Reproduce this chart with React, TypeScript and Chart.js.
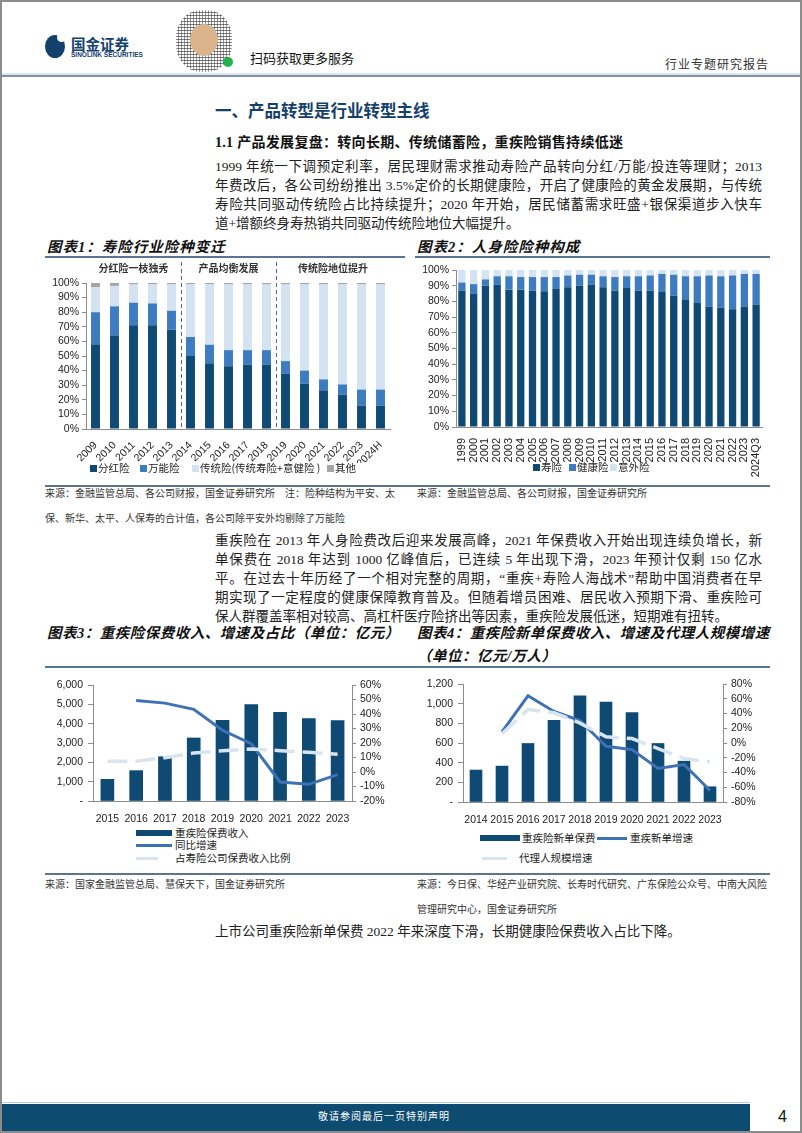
import React, { useEffect, useRef } from "react";
import { Chart, registerables } from "chart.js";
Chart.register(...registerables);

const FONT = "'Liberation Sans', 'Noto Sans CJK SC', Arial, sans-serif";
const CJK = "'Noto Sans CJK SC', 'Liberation Sans', sans-serif";
const SERIF = "'Liberation Serif', 'Noto Sans CJK SC', serif";

const NAVY = "#0e4a73";
const MID = "#3d7cc0";
const LIGHT = "#d4e3f2";
const GRAY = "#a5a5a5";
const LINEBLUE = "#3f72b5";
const PALE = "#d8e5f1";
const AXIS = "#8c8c8c";
const RULE = "#587693";

// ---------- Chart 1: 寿险行业险种变迁 ----------
const years1 = ["2009", "2010", "2011", "2012", "2013", "2014", "2015", "2016", "2017", "2018", "2019", "2020", "2021", "2022", "2023", "2024H"];
const dividend1 = [58, 64, 71, 71, 68, 50, 45, 43, 44, 44, 38, 31, 26.5, 23.5, 16, 16];
const universal1 = [22, 20, 15.5, 15, 13, 13, 12.7, 11, 10, 10, 8.5, 9, 7.5, 7, 11, 11];
const traditional1 = [17, 14, 12.5, 13, 18, 36, 41.3, 45, 45, 45, 52.5, 59, 65, 68.5, 72, 72];
const other1 = [3, 2, 1, 1, 1, 1, 1, 1, 1, 1, 1, 1, 1, 1, 1, 1];
const bandLabels1 = ["分红险一枝独秀", "产品均衡发展", "传统险地位提升"];
const bandStarts1 = [0, 5, 10];
const series1Names = ["分红险", "万能险", "传统险(传统寿险+意健险 )", "其他"];

// ---------- Chart 2: 人身险险种构成 ----------
const years2 = ["1999", "2000", "2001", "2002", "2003", "2004", "2005", "2006", "2007", "2008", "2009", "2010", "2011", "2012", "2013", "2014", "2015", "2016", "2017", "2018", "2019", "2020", "2021", "2022", "2023", "2024Q3"];
const life2 = [87, 85, 90, 90.5, 87.5, 87.5, 87, 86.5, 88, 89, 90, 90.5, 89, 87, 88.5, 87, 87, 86, 83.5, 81, 79, 76.5, 76, 75, 76.5, 78];
const health2 = [5, 6, 4, 5.5, 8.5, 8, 8.5, 9, 7.5, 7.5, 7, 6.5, 7, 8.5, 7.5, 9, 9.5, 11.5, 13.5, 15, 17, 20, 20, 21.5, 21, 19.5];
const accident2 = [8, 9, 6, 4, 4, 4.5, 4.5, 4.5, 4.5, 3.5, 3, 3, 4, 4.5, 4, 4, 3.5, 2.5, 3, 4, 4, 3.5, 4, 3.5, 2.5, 2.5];
const series2Names = ["寿险", "健康险", "意外险"];

// ---------- Chart 3: 重疾险保费收入、增速及占比 ----------
const years3 = ["2015", "2016", "2017", "2018", "2019", "2020", "2021", "2022", "2023"];
const premium3 = [1120, 1570, 2290, 3260, 4170, 4990, 4590, 4260, 4160];
const growth3 = [null, 49.3, 47.5, 43.2, 28.8, 19.5, -6.9, -8.5, -1.8];
const ratio3 = [7.5, 7.5, 9.9, 13.1, 14.7, 15.9, 14.7, 13.6, 12.2];
const series3Names = ["重疾险保费收入", "同比增速", "占寿险公司保费收入比例"];

// ---------- Chart 4: 重疾险新单保费收入、增速及代理人规模增速 ----------
const years4 = ["2014", "2015", "2016", "2017", "2018", "2019", "2020", "2021", "2022", "2023"];
const newPrem4 = [325, 365, 595, 830, 1080, 1015, 910, 595, 415, 155];
const growth4 = [null, 15, 64, 42.7, 30.5, -4.4, -9, -34.6, -29.2, -64.4];
const agent4 = [null, 12.5, 45.5, 41, 27, 8.5, 6, -7.5, -21, -25.5];
const series4Names = ["重疾险新单保费", "重疾新单增速", "代理人规模增速"];

const tickFont = (size: number) => ({ family: FONT, size });

function fixedWidth(w: number) {
  return (s: any) => {
    s.width = w;
  };
}
function fixedHeight(h: number) {
  return (s: any) => {
    s.height = h;
    s.paddingLeft = 0;
    s.paddingRight = 0;
  };
}

const bandPlugin = {
  id: "bands1",
  afterDraw(chart: any) {
    const { ctx, chartArea, scales } = chart;
    const x = scales.x;
    const step = x.getPixelForValue(1) - x.getPixelForValue(0);
    ctx.save();
    ctx.strokeStyle = "#4a62a8";
    ctx.lineWidth = 1;
    ctx.setLineDash([4, 3]);
    bandStarts1.forEach((s) => {
      if (s === 0) return;
      const px = Math.round(x.getPixelForValue(s) - step / 2) + 0.5;
      ctx.beginPath();
      ctx.moveTo(px, chartArea.top - 21);
      ctx.lineTo(px, chartArea.bottom);
      ctx.stroke();
    });
    ctx.setLineDash([]);
    ctx.fillStyle = "#333";
    ctx.font = `bold 10px ${CJK}`;
    ctx.textAlign = "center";
    ctx.textBaseline = "middle";
    bandLabels1.forEach((lab, i) => {
      const a = bandStarts1[i];
      const b = i + 1 < bandStarts1.length ? bandStarts1[i + 1] - 1 : years1.length - 1;
      const cx = (x.getPixelForValue(a) + x.getPixelForValue(b)) / 2;
      ctx.fillText(lab, cx, chartArea.top - 15);
    });
    ctx.restore();
  },
};

function leftAxis(w: number, tl: number, extra: any) {
  return {
    position: "left",
    border: { display: true, color: AXIS, width: 1 },
    grid: { display: true, drawOnChartArea: false, drawTicks: true, tickLength: tl, color: AXIS },
    afterFit: fixedWidth(w),
    ...extra,
  };
}

function config1(): any {
  return {
    type: "bar",
    data: {
      labels: years1,
      datasets: [
        { label: series1Names[0], data: dividend1, backgroundColor: NAVY },
        { label: series1Names[1], data: universal1, backgroundColor: MID },
        { label: series1Names[2], data: traditional1, backgroundColor: LIGHT },
        { label: series1Names[3], data: other1, backgroundColor: GRAY },
      ],
    },
    options: {
      animation: false,
      responsive: false,
      layout: { padding: { top: 25, right: 15, left: 0, bottom: 0 } },
      plugins: { legend: { display: false }, tooltip: { enabled: false } },
      datasets: { bar: { barPercentage: 0.47, categoryPercentage: 1 } },
      scales: {
        x: {
          stacked: true,
          border: { display: true, color: AXIS },
          grid: { display: false },
          ticks: { color: "#222", font: tickFont(10.5), minRotation: 45, maxRotation: 45, autoSkip: false, padding: 2 },
          afterFit: fixedHeight(34),
        },
        y: leftAxis(41, 4, {
          stacked: true,
          min: 0,
          max: 100,
          ticks: { color: "#222", font: tickFont(10.5), padding: 3, stepSize: 10, autoSkip: false, callback: (v: number) => v + "%" },
        }),
      },
    },
    plugins: [bandPlugin],
  };
}

function config2(): any {
  return {
    type: "bar",
    data: {
      labels: years2,
      datasets: [
        { label: series2Names[0], data: life2, backgroundColor: NAVY },
        { label: series2Names[1], data: health2, backgroundColor: MID },
        { label: series2Names[2], data: accident2, backgroundColor: LIGHT },
      ],
    },
    options: {
      animation: false,
      responsive: false,
      layout: { padding: { top: 12, right: 11, left: 0, bottom: 0 } },
      plugins: { legend: { display: false }, tooltip: { enabled: false } },
      datasets: { bar: { barPercentage: 0.62, categoryPercentage: 1 } },
      scales: {
        x: {
          stacked: true,
          border: { display: true, color: AXIS },
          grid: { display: false },
          ticks: { color: "#222", font: tickFont(11), minRotation: 90, maxRotation: 90, autoSkip: false, padding: 3 },
          afterFit: fixedHeight(51),
        },
        y: leftAxis(43, 4, {
          stacked: true,
          min: 0,
          max: 100,
          ticks: { color: "#222", font: tickFont(10.5), padding: 3, stepSize: 10, autoSkip: false, callback: (v: number) => v + "%" },
        }),
      },
    },
  };
}

function comboConfig(
  labels: string[],
  bars: number[],
  growth: (number | null)[],
  pale: (number | null)[],
  names: string[],
  yMax: number,
  yStep: number,
  rMin: number,
  rMax: number,
  rStep: number,
  barW: number,
  padTop: number,
  leftW: number,
  rightW: number,
  xH: number
): any {
  return {
    type: "bar",
    data: {
      labels,
      datasets: [
        {
          type: "line",
          label: names[2],
          data: pale,
          yAxisID: "y1",
          borderColor: PALE,
          borderWidth: 3.5,
          borderDash: [20, 8],
          pointRadius: 0,
          tension: 0,
          order: 1,
        },
        {
          type: "line",
          label: names[1],
          data: growth,
          yAxisID: "y1",
          borderColor: LINEBLUE,
          borderWidth: 3,
          pointRadius: 0,
          tension: 0,
          order: 2,
        },
        { type: "bar", label: names[0], data: bars, yAxisID: "y", backgroundColor: NAVY, barThickness: barW, order: 3 },
      ],
    },
    options: {
      animation: false,
      responsive: false,
      layout: { padding: { top: padTop, right: 0, left: 0, bottom: 0 } },
      plugins: { legend: { display: false }, tooltip: { enabled: false } },
      scales: {
        x: {
          border: { display: true, color: AXIS },
          grid: { display: false },
          ticks: { color: "#222", font: tickFont(10.5), maxRotation: 0, autoSkip: false, padding: 4 },
          afterFit: fixedHeight(xH),
        },
        y: leftAxis(leftW, 5, {
          min: 0,
          max: yMax,
          ticks: {
            color: "#222",
            font: tickFont(10.5),
            padding: 5,
            stepSize: yStep,
            autoSkip: false,
            callback: (v: number) => (v === 0 ? "-" : v.toLocaleString("en-US")),
          },
        }),
        y1: {
          position: "right",
          min: rMin,
          max: rMax,
          border: { display: true, color: AXIS, width: 1 },
          grid: { display: true, drawOnChartArea: false, drawTicks: true, tickLength: 4, color: AXIS },
          ticks: { color: "#222", font: tickFont(10.5), padding: 4, stepSize: rStep, autoSkip: false, callback: (v: number) => v + "%" },
          afterFit: fixedWidth(rightW),
        },
      },
    },
  };
}

function ChartBox({ left, top, width, height, build }: { left: number; top: number; width: number; height: number; build: () => any }) {
  const ref = useRef<HTMLCanvasElement>(null);
  useEffect(() => {
    const chart = new Chart(ref.current as HTMLCanvasElement, build());
    return () => chart.destroy();
  }, []);
  return (
    <div style={{ position: "absolute", left, top, width, height }}>
      <canvas ref={ref} width={width} height={height} style={{ width, height, display: "block" }} />
    </div>
  );
}

type TP = {
  x: number;
  y: number;
  s: number;
  c?: string;
  f?: string;
  b?: boolean;
  i?: boolean;
  ls?: number;
  just?: number;
  children: any;
};
function T({ x, y, s, c = "#222", f = SERIF, b = false, i = false, ls = 0, just, children }: TP) {
  return (
    <div
      style={{
        position: "absolute",
        left: x,
        top: y,
        transform: "translateY(-50%)",
        fontSize: s,
        lineHeight: 1.15,
        fontFamily: f,
        fontWeight: b ? 700 : 400,
        fontStyle: i ? "italic" : "normal",
        color: c,
        letterSpacing: ls,
        whiteSpace: "nowrap",
        width: just,
        textAlign: just ? "justify" : "left",
        textAlignLast: just ? "justify" : "auto",
      } as any}
    >
      {children}
    </div>
  );
}

function Box({ x, y, w, h, c, r }: { x: number; y: number; w: number; h: number; c: string; r?: any }) {
  return <div style={{ position: "absolute", left: x, top: y, width: w, height: h, background: c, borderRadius: r }} />;
}

function Swatch({ x, y, w, h, c }: { x: number; y: number; w: number; h: number; c: string }) {
  return <Box x={x} y={y - h / 2} w={w} h={h} c={c} />;
}

const para1 = [
  "1999 年统一下调预定利率，居民理财需求推动寿险产品转向分红/万能/投连等理财；2013",
  "年费改后，各公司纷纷推出 3.5%定价的长期健康险，开启了健康险的黄金发展期，与传统",
  "寿险共同驱动传统险占比持续提升；2020 年开始，居民储蓄需求旺盛+银保渠道步入快车",
  "道+增额终身寿热销共同驱动传统险地位大幅提升。",
];
const para2 = [
  "重疾险在 2013 年人身险费改后迎来发展高峰，2021 年保费收入开始出现连续负增长，新",
  "单保费在 2018 年达到 1000 亿峰值后，已连续 5 年出现下滑，2023 年预计仅剩 150 亿水",
  "平。在过去十年历经了一个相对完整的周期，“重疾+寿险人海战术”帮助中国消费者在早",
  "期实现了一定程度的健康保障教育普及。但随着增员困难、居民收入预期下滑、重疾险可",
  "保人群覆盖率相对较高、高杠杆医疗险挤出等因素，重疾险发展低迷，短期难有扭转。",
];

export default function App() {
  return (
    <div
      style={{
        position: "absolute",
        left: 0,
        top: 0,
        width: 802,
        height: 1133,
        overflow: "hidden",
        background: "#fff",
        boxSizing: "border-box",
        border: "2px solid #8c8c8c",
      }}
    >
      <div style={{ position: "absolute", left: -2, top: -2, width: 802, height: 1133 }}>
        {/* Header */}
        <Box x={45} y={35} w={20} h={23} c="#11416c" r="50%" />
        <Box x={57} y={33} w={9} h={9} c="#fff" r="50%" />
        <T x={71} y={44} s={14.5} f={CJK} b c="#11416c">国金证券</T>
        <T x={71} y={55} s={6.5} f={FONT} b c="#11416c">SINOLINK SECURITIES</T>
        <div
          style={{
            position: "absolute",
            left: 176,
            top: 10,
            width: 56,
            height: 62,
            borderRadius: "45%",
            background:
              "repeating-linear-gradient(0deg, #fff 0 2px, #555 2px 3px), repeating-linear-gradient(90deg, #fff 0 2px, #777 2px 3px)",
            backgroundBlendMode: "multiply",
            opacity: 0.75,
          }}
        />
        <Box x={190} y={24} w={28} h={32} c="#dcb48c" r="50%" />
        <Box x={223} y={57} w={10} h={10} c="#22b14c" r="50%" />
        <T x={250} y={58} s={13} f={CJK} c="#111">扫码获取更多服务</T>
        <T x={665} y={66} s={12} f={SERIF} c="#333" ls={1}>行业专题研究报告</T>
        <Box x={2} y={73} w={798} h={2} c="#dde7ef" />
        <Box x={2} y={75} w={798} h={2} c="#7f91a3" />

        {/* Section titles */}
        <T x={215} y={110} s={16.5} f={CJK} b c="#14406c">一、产品转型是行业转型主线</T>
        <T x={215} y={143} s={14} f={SERIF} b c="#111" ls={0.3}>1.1 产品发展复盘：转向长期、传统储蓄险，重疾险销售持续低迷</T>
        {para1.map((l, i) => (
          <T key={i} x={215} y={167 + i * 19} s={13.5} just={i < para1.length - 1 ? 547 : undefined}>
            {l}
          </T>
        ))}

        {/* Figure 1 & 2 titles */}
        <T x={47} y={247} s={14.5} f={SERIF} b i c="#111" ls={1}>图表1：寿险行业险种变迁</T>
        <T x={417} y={247} s={14.5} f={SERIF} b i c="#111" ls={1}>图表2：人身险险种构成</T>
        <Box x={45} y={256} w={360} h={1.5} c={RULE} />
        <Box x={415} y={256} w={355} h={1.5} c={RULE} />

        <ChartBox left={45} top={258} width={360} height={205} build={config1} />
        <ChartBox left={413} top={258} width={360} height={220} build={config2} />

        {/* Legend 1 */}
        {[
          { x: 90, c: NAVY, t: series1Names[0] },
          { x: 140, c: MID, t: series1Names[1] },
          { x: 192, c: LIGHT, t: series1Names[2] },
          { x: 327, c: GRAY, t: series1Names[3] },
        ].map((it, i) => (
          <React.Fragment key={i}>
            <Swatch x={it.x} y={468} w={7} h={7} c={it.c} />
            <T x={it.x + 8} y={468} s={10.5} f={CJK}>{it.t}</T>
          </React.Fragment>
        ))}
        {/* Legend 2 */}
        {[
          { x: 533, c: NAVY, t: series2Names[0] },
          { x: 569, c: MID, t: series2Names[1] },
          { x: 610, c: LIGHT, t: series2Names[2] },
        ].map((it, i) => (
          <React.Fragment key={i}>
            <Swatch x={it.x} y={467} w={7} h={7} c={it.c} />
            <T x={it.x + 8} y={467} s={10.5} f={CJK}>{it.t}</T>
          </React.Fragment>
        ))}

        <Box x={45} y={485} w={725} h={2} c={RULE} />
        <T x={45} y={494} s={10} f={SERIF} c="#333">来源：金融监管总局、各公司财报，国金证券研究所　注：险种结构为平安、太</T>
        <T x={45} y={519} s={10} f={SERIF} c="#333">保、新华、太平、人保寿的合计值，各公司除平安外均剔除了万能险</T>
        <T x={417} y={494} s={10} f={SERIF} c="#333">来源：金融监管总局、各公司财报，国金证券研究所</T>

        {para2.map((l, i) => (
          <T key={i} x={215} y={541 + i * 19} s={13.5} just={i < para2.length - 1 ? 547 : undefined}>
            {l}
          </T>
        ))}

        <T x={47} y={633} s={14.5} f={SERIF} b i c="#111" ls={0.5}>图表3：重疾险保费收入、增速及占比（单位：亿元）</T>
        <T x={417} y={633} s={14.5} f={SERIF} b i c="#111" ls={0.5}>图表4：重疾险新单保费收入、增速及代理人规模增速</T>
        <T x={417} y={656} s={14.5} f={SERIF} b i c="#111" ls={0.5}>（单位：亿元/万人）</T>
        <Box x={45} y={666} w={725} h={2} c={RULE} />

        <ChartBox
          left={45}
          top={672}
          width={360}
          height={152}
          build={() => comboConfig(years3, premium3, growth3, ratio3, series3Names, 6000, 1000, -20, 60, 10, 13, 13, 48, 53, 23)}
        />
        <ChartBox
          left={415}
          top={672}
          width={360}
          height={152}
          build={() => comboConfig(years4, newPrem4, growth4, agent4, series4Names, 1200, 200, -80, 80, 20, 12, 12, 48, 52, 22)}
        />

        {/* Legend 3 */}
        <Swatch x={136} y={833} w={36} h={6} c={NAVY} />
        <T x={175} y={833} s={10.5} f={CJK}>{series3Names[0]}</T>
        <Swatch x={136} y={845} w={36} h={3} c={LINEBLUE} />
        <T x={175} y={845} s={10.5} f={CJK}>{series3Names[1]}</T>
        <Swatch x={136} y={858} w={22} h={3} c={PALE} />
        <T x={175} y={858} s={10.5} f={CJK}>{series3Names[2]}</T>

        {/* Legend 4 */}
        <Swatch x={480} y={838} w={40} h={6} c={NAVY} />
        <T x={522} y={838} s={10.5} f={CJK}>{series4Names[0]}</T>
        <Swatch x={597} y={838} w={30} h={3} c={LINEBLUE} />
        <T x={630} y={838} s={10.5} f={CJK}>{series4Names[1]}</T>
        <Swatch x={482} y={858} w={25} h={3} c={PALE} />
        <T x={519} y={858} s={10.5} f={CJK}>{series4Names[2]}</T>

        <Box x={45} y={873} w={725} h={2} c={RULE} />
        <T x={45} y={885} s={10} f={SERIF} c="#333">来源：国家金融监管总局、慧保天下，国金证券研究所</T>
        <T x={417} y={885} s={10} f={SERIF} c="#333">来源：今日保、华经产业研究院、长寿时代研究、广东保险公众号、中南大风险</T>
        <T x={417} y={910} s={10} f={SERIF} c="#333">管理研究中心，国金证券研究所</T>

        <T x={215} y={932} s={13.5}>上市公司重疾险新单保费 2022 年来深度下滑，长期健康险保费收入占比下降。</T>

        {/* Footer */}
        <Box x={2} y={1102} w={748} h={1} c="#b8cde0" />
        <Box x={2} y={1104} w={748} h={27} c="#0d4b70" />
        <T x={318} y={1117} s={10} f={SERIF} c="#fff" ls={1}>敬请参阅最后一页特别声明</T>
        <T x={778} y={1117} s={16} f={FONT} c="#111">4</T>
      </div>
    </div>
  );
}
